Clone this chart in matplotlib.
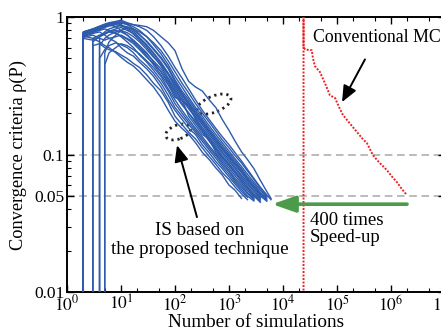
"""Convergence of IS (proposed technique) vs. conventional Monte Carlo."""

import matplotlib
matplotlib.use("Agg")
import matplotlib.pyplot as plt
from matplotlib.patches import Ellipse
from matplotlib.transforms import IdentityTransform
from matplotlib.ticker import FixedLocator, LogLocator, NullFormatter

# ---- data -----------------------------------------------------------------
# sample counts at which the IS traces were read off
GRID = [2, 3, 4, 5, 6, 8, 10, 13, 17, 22, 30, 40, 55, 75, 100, 135, 180,
        240, 320, 430, 570, 750, 1000, 1300, 1700, 2200, 2900, 3800, 5000, 6000]

# first sample count of every IS run (rho is undefined before it)
IS_START = [2, 3, 2, 4, 2, 5, 2, 3, 2, 2, 4, 2, 2, 3, 2, 5, 2, 2, 2, 4]

IS_RHO = [
    [0.73, 0.70, 0.66, 0.62, 0.60, 0.55, 0.51, 0.47, 0.44, 0.40, 0.35, 0.31, 0.26,
     0.21, 0.175, 0.155, 0.14, 0.122, 0.104, 0.092, 0.080, 0.071, 0.060, 0.055, 0.048],
    [0.62, 0.64, 0.60, 0.58, 0.56, 0.53, 0.50, 0.46, 0.43, 0.38, 0.33, 0.29, 0.24,
     0.19, 0.165, 0.145, 0.13, 0.112, 0.097, 0.085, 0.074, 0.066, 0.058, 0.052, 0.047],
    [0.72, 0.76, 0.78, 0.74, 0.70, 0.66, 0.60, 0.55, 0.52, 0.47, 0.42, 0.37, 0.31,
     0.25, 0.21, 0.18, 0.155, 0.14, 0.118, 0.103, 0.089, 0.079, 0.069, 0.061, 0.054, 0.049],
    [0.50, 0.58, 0.62, 0.65, 0.63, 0.60, 0.55, 0.49, 0.44, 0.39, 0.33, 0.27, 0.22,
     0.19, 0.165, 0.145, 0.125, 0.108, 0.094, 0.082, 0.072, 0.063, 0.056, 0.050, 0.046],
    [0.75, 0.78, 0.80, 0.82, 0.80, 0.77, 0.72, 0.66, 0.60, 0.53, 0.47, 0.41, 0.35,
     0.29, 0.235, 0.20, 0.172, 0.15, 0.13, 0.112, 0.098, 0.085, 0.075, 0.065, 0.058,
     0.052, 0.047],
    [0.45, 0.55, 0.60, 0.64, 0.62, 0.58, 0.54, 0.48, 0.43, 0.37, 0.30, 0.25, 0.21,
     0.18, 0.155, 0.135, 0.116, 0.101, 0.088, 0.077, 0.067, 0.060, 0.053, 0.048],
    [0.78, 0.82, 0.85, 0.87, 0.88, 0.85, 0.80, 0.74, 0.67, 0.60, 0.52, 0.45, 0.38,
     0.32, 0.26, 0.25, 0.19, 0.163, 0.14, 0.13, 0.104, 0.091, 0.080, 0.070, 0.062,
     0.055, 0.049],
    [0.70, 0.74, 0.76, 0.78, 0.76, 0.73, 0.69, 0.64, 0.58, 0.51, 0.46, 0.40, 0.33,
     0.27, 0.23, 0.20, 0.17, 0.146, 0.125, 0.108, 0.094, 0.083, 0.073, 0.064, 0.057,
     0.051, 0.046],
    [0.71, 0.74, 0.70, 0.68, 0.70, 0.72, 0.74, 0.70, 0.66, 0.60, 0.54, 0.48, 0.42,
     0.35, 0.29, 0.245, 0.23, 0.18, 0.153, 0.131, 0.113, 0.098, 0.086, 0.076, 0.067,
     0.059, 0.052, 0.047],
    [0.77, 0.80, 0.84, 0.86, 0.89, 0.90, 0.88, 0.82, 0.75, 0.68, 0.60, 0.52, 0.44,
     0.36, 0.30, 0.25, 0.215, 0.185, 0.158, 0.135, 0.117, 0.102, 0.089, 0.079, 0.069,
     0.061, 0.054, 0.048],
    [0.62, 0.70, 0.74, 0.78, 0.80, 0.77, 0.72, 0.66, 0.58, 0.51, 0.45, 0.38, 0.31,
     0.26, 0.22, 0.19, 0.165, 0.14, 0.121, 0.105, 0.092, 0.081, 0.071, 0.063, 0.055,
     0.049],
    [0.74, 0.77, 0.81, 0.84, 0.86, 0.88, 0.86, 0.83, 0.78, 0.71, 0.63, 0.55, 0.47,
     0.39, 0.32, 0.27, 0.23, 0.196, 0.17, 0.145, 0.125, 0.109, 0.095, 0.084, 0.074,
     0.065, 0.057, 0.050, 0.046],
    [0.76, 0.79, 0.83, 0.86, 0.88, 0.91, 0.92, 0.88, 0.82, 0.75, 0.66, 0.58, 0.50,
     0.42, 0.34, 0.28, 0.24, 0.205, 0.176, 0.15, 0.13, 0.113, 0.099, 0.087, 0.077,
     0.067, 0.059, 0.052, 0.047],
    [0.66, 0.72, 0.78, 0.82, 0.85, 0.87, 0.85, 0.80, 0.74, 0.67, 0.59, 0.51, 0.43,
     0.35, 0.29, 0.25, 0.212, 0.182, 0.155, 0.134, 0.117, 0.102, 0.090, 0.079, 0.069,
     0.061, 0.053, 0.048],
    [0.73, 0.78, 0.82, 0.85, 0.87, 0.89, 0.90, 0.89, 0.85, 0.80, 0.72, 0.63, 0.54,
     0.45, 0.37, 0.31, 0.26, 0.22, 0.19, 0.162, 0.14, 0.122, 0.106, 0.093, 0.082,
     0.072, 0.063, 0.055, 0.049],
    [0.55, 0.66, 0.74, 0.80, 0.84, 0.82, 0.78, 0.72, 0.65, 0.57, 0.48, 0.40, 0.33,
     0.28, 0.235, 0.20, 0.172, 0.148, 0.128, 0.112, 0.098, 0.087, 0.076, 0.066, 0.057,
     0.050],
    [0.77, 0.81, 0.85, 0.88, 0.90, 0.92, 0.93, 0.90, 0.88, 0.85, 0.80, 0.72, 0.62,
     0.52, 0.43, 0.36, 0.30, 0.25, 0.21, 0.18, 0.155, 0.135, 0.118, 0.103, 0.090,
     0.078, 0.067, 0.058, 0.051, 0.047],
    [0.78, 0.82, 0.86, 0.89, 0.91, 0.93, 0.95, 0.91, 0.88, 0.87, 0.85, 0.80, 0.72,
     0.65, 0.57, 0.42, 0.34, 0.31, 0.29, 0.25, 0.22, 0.18, 0.15, 0.125, 0.105,
     0.092, 0.079, 0.065, 0.054, 0.048],
    [0.70, 0.68, 0.72, 0.75, 0.78, 0.80, 0.78, 0.74, 0.68, 0.62, 0.55, 0.47, 0.40,
     0.34, 0.28, 0.235, 0.20, 0.175, 0.15, 0.128, 0.11, 0.096, 0.084, 0.074, 0.065,
     0.057, 0.050, 0.045],
    [0.72, 0.76, 0.79, 0.82, 0.84, 0.80, 0.76, 0.70, 0.62, 0.54, 0.46, 0.39, 0.33,
     0.275, 0.235, 0.20, 0.172, 0.147, 0.127, 0.11, 0.097, 0.085, 0.075, 0.066, 0.058,
     0.051, 0.046],
]

# conventional Monte Carlo run
MC_N = [24000, 24000, 24000, 26000, 34000, 36000, 39000, 48000, 60000, 74000,
        92000, 110000, 129000, 170000, 234000, 300000, 359000, 464000, 600000,
        843000, 1050000, 1290000, 1600000, 1980000]
MC_RHO = [0.001, 1.0, 0.60, 0.58, 0.575, 0.50, 0.44, 0.40, 0.33, 0.27,
          0.258, 0.22, 0.194, 0.17, 0.146, 0.13, 0.121, 0.099, 0.088,
          0.077, 0.069, 0.063, 0.056, 0.0507]

RHO_UNDEFINED = 1e-3      # plotted below the axis before a run starts
THRESHOLDS = [0.1, 0.05]
SPEEDUP_N = [1980000, 6300]
SPEEDUP_RHO = 0.0436

YTICKS = [0.01, 0.05, 0.1, 1]
YTICK_LABELS = ["0.01", "0.05", "0.1", "1"]
XTICKS = [10 ** k for k in range(0, 8)]
XTICK_LABELS = [r"$10^{%d}$" % k for k in range(0, 8)]


def main():
    plt.rcParams["font.family"] = ["Liberation Serif", "DejaVu Serif"]
    plt.rcParams["mathtext.fontset"] = "stix"

    fig = plt.figure(figsize=(4.41, 3.35), dpi=100)
    ax = fig.add_axes([0.152, 0.128, 0.857, 0.821])
    ax.set_xscale("log")
    ax.set_yscale("log")
    ax.set_xlim(1, 1e7)
    ax.set_ylim(0.01, 1)

    # threshold lines
    for t in THRESHOLDS:
        ax.axhline(t, color="#a8a8a8", lw=1.1, ls=(0, (5, 3)), zorder=1)

    # IS runs
    for start, rho in zip(IS_START, IS_RHO):
        i0 = GRID.index(start)
        n = GRID[i0:i0 + len(rho)]
        ax.plot([n[0]] + n, [RHO_UNDEFINED] + rho, color="#2d5bab", lw=1.0,
                zorder=3)

    # conventional MC
    ax.plot(MC_N, MC_RHO, color="#ee2020", lw=1.4, ls=(0, (1, 0.8)), zorder=4)

    # speed-up arrow
    ax.annotate("", xy=(SPEEDUP_N[1], SPEEDUP_RHO), xytext=(SPEEDUP_N[0], SPEEDUP_RHO),
                arrowprops=dict(arrowstyle="-|>,head_length=1.0,head_width=0.35",
                                color="#4b9b4b", lw=2.6, mutation_scale=14,
                                shrinkA=0, shrinkB=0), zorder=5)
    ax.text(31600, 0.0287, "400 times\nSpeed-up", fontsize=13.5, ha="left",
            va="center", linespacing=1.0)

    # annotations
    ax.annotate("Conventional MC", xy=(124000, 0.241), xytext=(550000, 0.715),
                fontsize=12.8, ha="center", va="center",
                arrowprops=dict(arrowstyle="-|>,head_length=0.7,head_width=0.3",
                                color="black", lw=1.4, mutation_scale=14,
                                shrinkA=9, shrinkB=0))
    ax.annotate("", xy=(109, 0.117), xytext=(255, 0.0351),
                arrowprops=dict(arrowstyle="-|>,head_length=0.7,head_width=0.3",
                                color="black", lw=1.4, mutation_scale=14,
                                shrinkA=0, shrinkB=0))
    ax.text(290, 0.0239, "IS based on\nthe proposed technique", fontsize=13.8,
            ha="center", va="center", linespacing=1.1)

    # dotted ellipses marking the slope
    for (x, y, w, h, ang) in [(527, 0.233, 36, 16, 22), (114, 0.146, 26, 14, 20)]:
        cx, cy = ax.transData.transform((x, y))
        ax.add_patch(Ellipse((cx, cy), w, h, angle=ang, transform=IdentityTransform(),
                             fill=False, ec="#222222", lw=2.0, ls=(0, (0.8, 1.4)),
                             zorder=2))

    # axes styling
    ax.set_xticks(XTICKS)
    ax.set_xticklabels(XTICK_LABELS)
    ax.xaxis.set_minor_locator(LogLocator(base=10, subs=(2, 5), numticks=20))
    ax.xaxis.set_minor_formatter(NullFormatter())
    ax.yaxis.set_major_locator(FixedLocator(YTICKS))
    ax.set_yticklabels(YTICK_LABELS)
    ax.yaxis.set_minor_locator(LogLocator(base=10, subs=range(2, 10), numticks=20))
    ax.yaxis.set_minor_formatter(NullFormatter())
    ax.tick_params(which="both", direction="in", top=True, right=True,
                   labelsize=12.5, pad=2)
    ax.tick_params(which="major", length=5, width=1.0)
    ax.tick_params(which="minor", length=3, width=0.8)
    for s in ax.spines.values():
        s.set_linewidth(1.4)

    ax.set_xlabel("Number of simulations", fontsize=13.8, labelpad=-1)
    ax.set_ylabel("Convergence criteria \u03c1(P)", fontsize=13.2, labelpad=5)

    fig.savefig("out.png", dpi=100)
    plt.close(fig)


if __name__ == "__main__":
    main()
